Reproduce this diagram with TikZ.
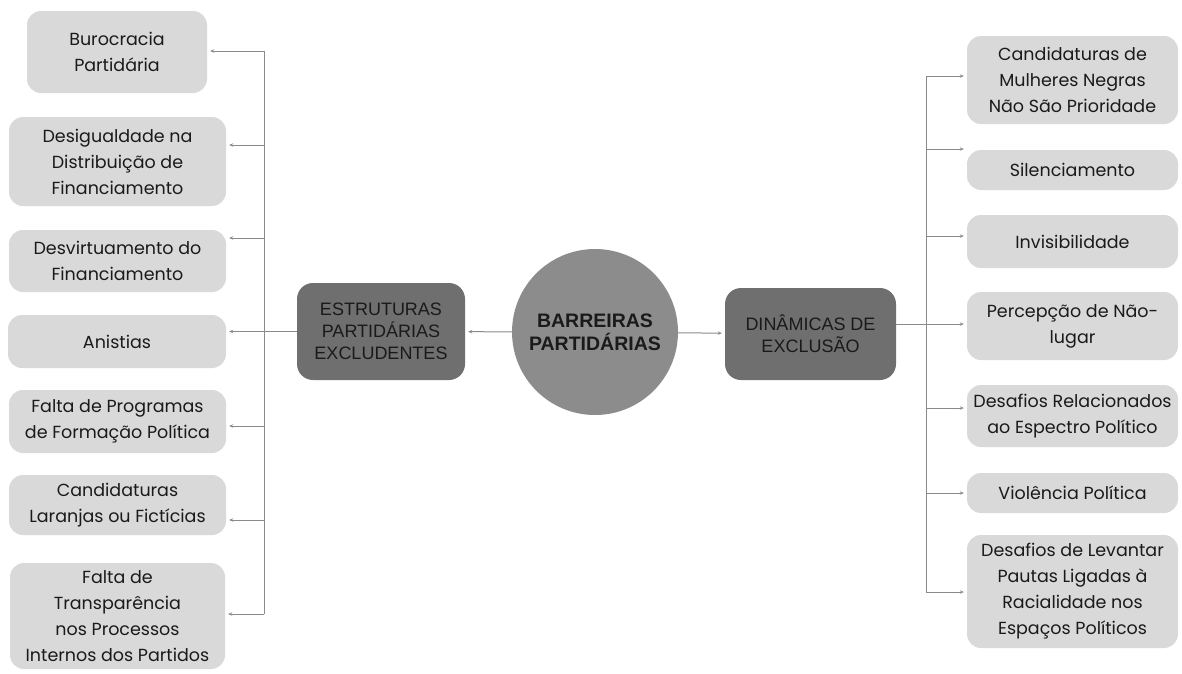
\documentclass[tikz,border=0pt]{standalone}
\usepackage{fontspec}
\setmainfont{Poppins}
\newfontfamily\headfont{Liberation Sans}
\usetikzlibrary{arrows.meta}
\definecolor{leafgray}{HTML}{D9D9D9}
\definecolor{boxgray}{HTML}{6F6F6F}
\definecolor{coregray}{HTML}{8C8C8C}
\definecolor{linegray}{HTML}{8A8A8A}
\definecolor{inkgray}{HTML}{1A1A1A}
\begin{document}
\begin{tikzpicture}
[
    x=1pt, y=-1pt,
    leaf/.style={fill=leafgray, rounded corners=14pt, align=center, inner sep=0pt, text=inkgray, font=\fontsize{17.5}{26}\selectfont},
    branch/.style={fill=boxgray, rounded corners=16pt, align=center, inner sep=0pt, text=inkgray, font=\headfont\fontsize{18}{22}\selectfont},
    core/.style={circle, fill=coregray, inner sep=0pt, minimum size=166pt, align=center, text=inkgray, font=\headfont\bfseries\fontsize{19.5}{23}\selectfont},
    link/.style={draw=linegray, line width=1pt},
    arr/.style={link, -{Stealth[length=4pt,width=3.5pt]}, shorten >=3pt},
]
\useasboundingbox (0,0) rectangle (1182,673);

\node[core] (barreiras) at (595,332) {BARREIRAS\\PARTIDÁRIAS};
\node[branch, minimum width=168pt, minimum height=97pt] (estruturas) at (381,331.5) {ESTRUTURAS\\PARTIDÁRIAS\\EXCLUDENTES};
\node[branch, minimum width=171pt, minimum height=92pt] (dinamicas) at (810.5,334) {DINÂMICAS DE\\EXCLUSÃO};

\node[leaf, minimum width=180pt, minimum height=82pt] (burocracia) at (117,52) {Burocracia\\Partidária};
\node[leaf, minimum width=217pt, minimum height=89pt] (desigualdade) at (117.5,161.5) {Desigualdade na\\Distribuição de\\Financiamento};
\node[leaf, minimum width=217pt, minimum height=62pt] (desvirtuamento) at (117.5,261) {Desvirtuamento do\\Financiamento};
\node[leaf, minimum width=218pt, minimum height=53pt] (anistias) at (117,341.5) {Anistias};
\node[leaf, minimum width=217pt, minimum height=63pt] (formacao) at (117.5,421.5) {Falta de Programas\\de Formação Política};
\node[leaf, minimum width=217pt, minimum height=60pt] (laranjas) at (117.5,505) {Candidaturas\\Laranjas ou Fictícias};
\node[leaf, minimum width=215pt, minimum height=106pt] (transparencia) at (117.5,616) {Falta de\\Transparência\\nos Processos\\Internos dos Partidos};

\node[leaf, minimum width=211pt, minimum height=88pt] (prioridade) at (1072.5,80) {Candidaturas de\\Mulheres Negras\\Não São Prioridade};
\node[leaf, minimum width=211pt, minimum height=40pt] (silenciamento) at (1072.5,170) {Silenciamento};
\node[leaf, minimum width=211pt, minimum height=53pt] (invisibilidade) at (1072.5,241.5) {Invisibilidade};
\node[leaf, minimum width=211pt, minimum height=68pt] (naolugar) at (1072.5,326) {Percepção de Não-\\lugar};
\node[leaf, minimum width=211pt, minimum height=62pt] (espectro) at (1072.5,416) {Desafios Relacionados\\ao Espectro Político};
\node[leaf, minimum width=211pt, minimum height=40pt] (violencia) at (1072.5,493) {Violência Política};
\node[leaf, minimum width=211pt, minimum height=113pt] (racialidade) at (1072.5,591.5) {Desafios de Levantar\\Pautas Ligadas à\\Racialidade nos\\Espaços Políticos};

\coordinate (spineL) at (264,51);
\coordinate (spineLend) at (264,614);
\coordinate (spineR) at (926,76);
\coordinate (spineRend) at (926,592);

\draw[arr] (barreiras) -- (estruturas);
\draw[arr] (barreiras) -- (dinamicas);

\draw[link] (spineL) -- (spineLend);
\draw[arr] (spineL) -- (burocracia.east |- spineL);
\draw[arr] (spineL |- 0,145) -- (desigualdade.east |- 0,145);
\draw[arr] (spineL |- 0,238) -- (desvirtuamento.east |- 0,238);
\draw[arr] (estruturas.west) -- (anistias.east |- estruturas.west);
\draw[arr] (spineL |- 0,426) -- (formacao.east |- 0,426);
\draw[arr] (spineL |- 0,520) -- (laranjas.east |- 0,520);
\draw[arr] (spineLend) -- (transparencia.east |- spineLend);

\draw[link] (spineR) -- (spineRend);
\draw[arr] (spineR) -- (prioridade.west |- spineR);
\draw[arr] (spineR |- 0,149) -- (silenciamento.west |- 0,149);
\draw[arr] (spineR |- 0,236) -- (invisibilidade.west |- 0,236);
\draw[arr] (dinamicas.east |- 0,324) -- (naolugar.west |- 0,324);
\draw[arr] (spineR |- 0,408) -- (espectro.west |- 0,408);
\draw[arr] (spineR |- 0,493) -- (violencia.west |- 0,493);
\draw[arr] (spineRend) -- (racialidade.west |- spineRend);
\end{tikzpicture}
\end{document}
